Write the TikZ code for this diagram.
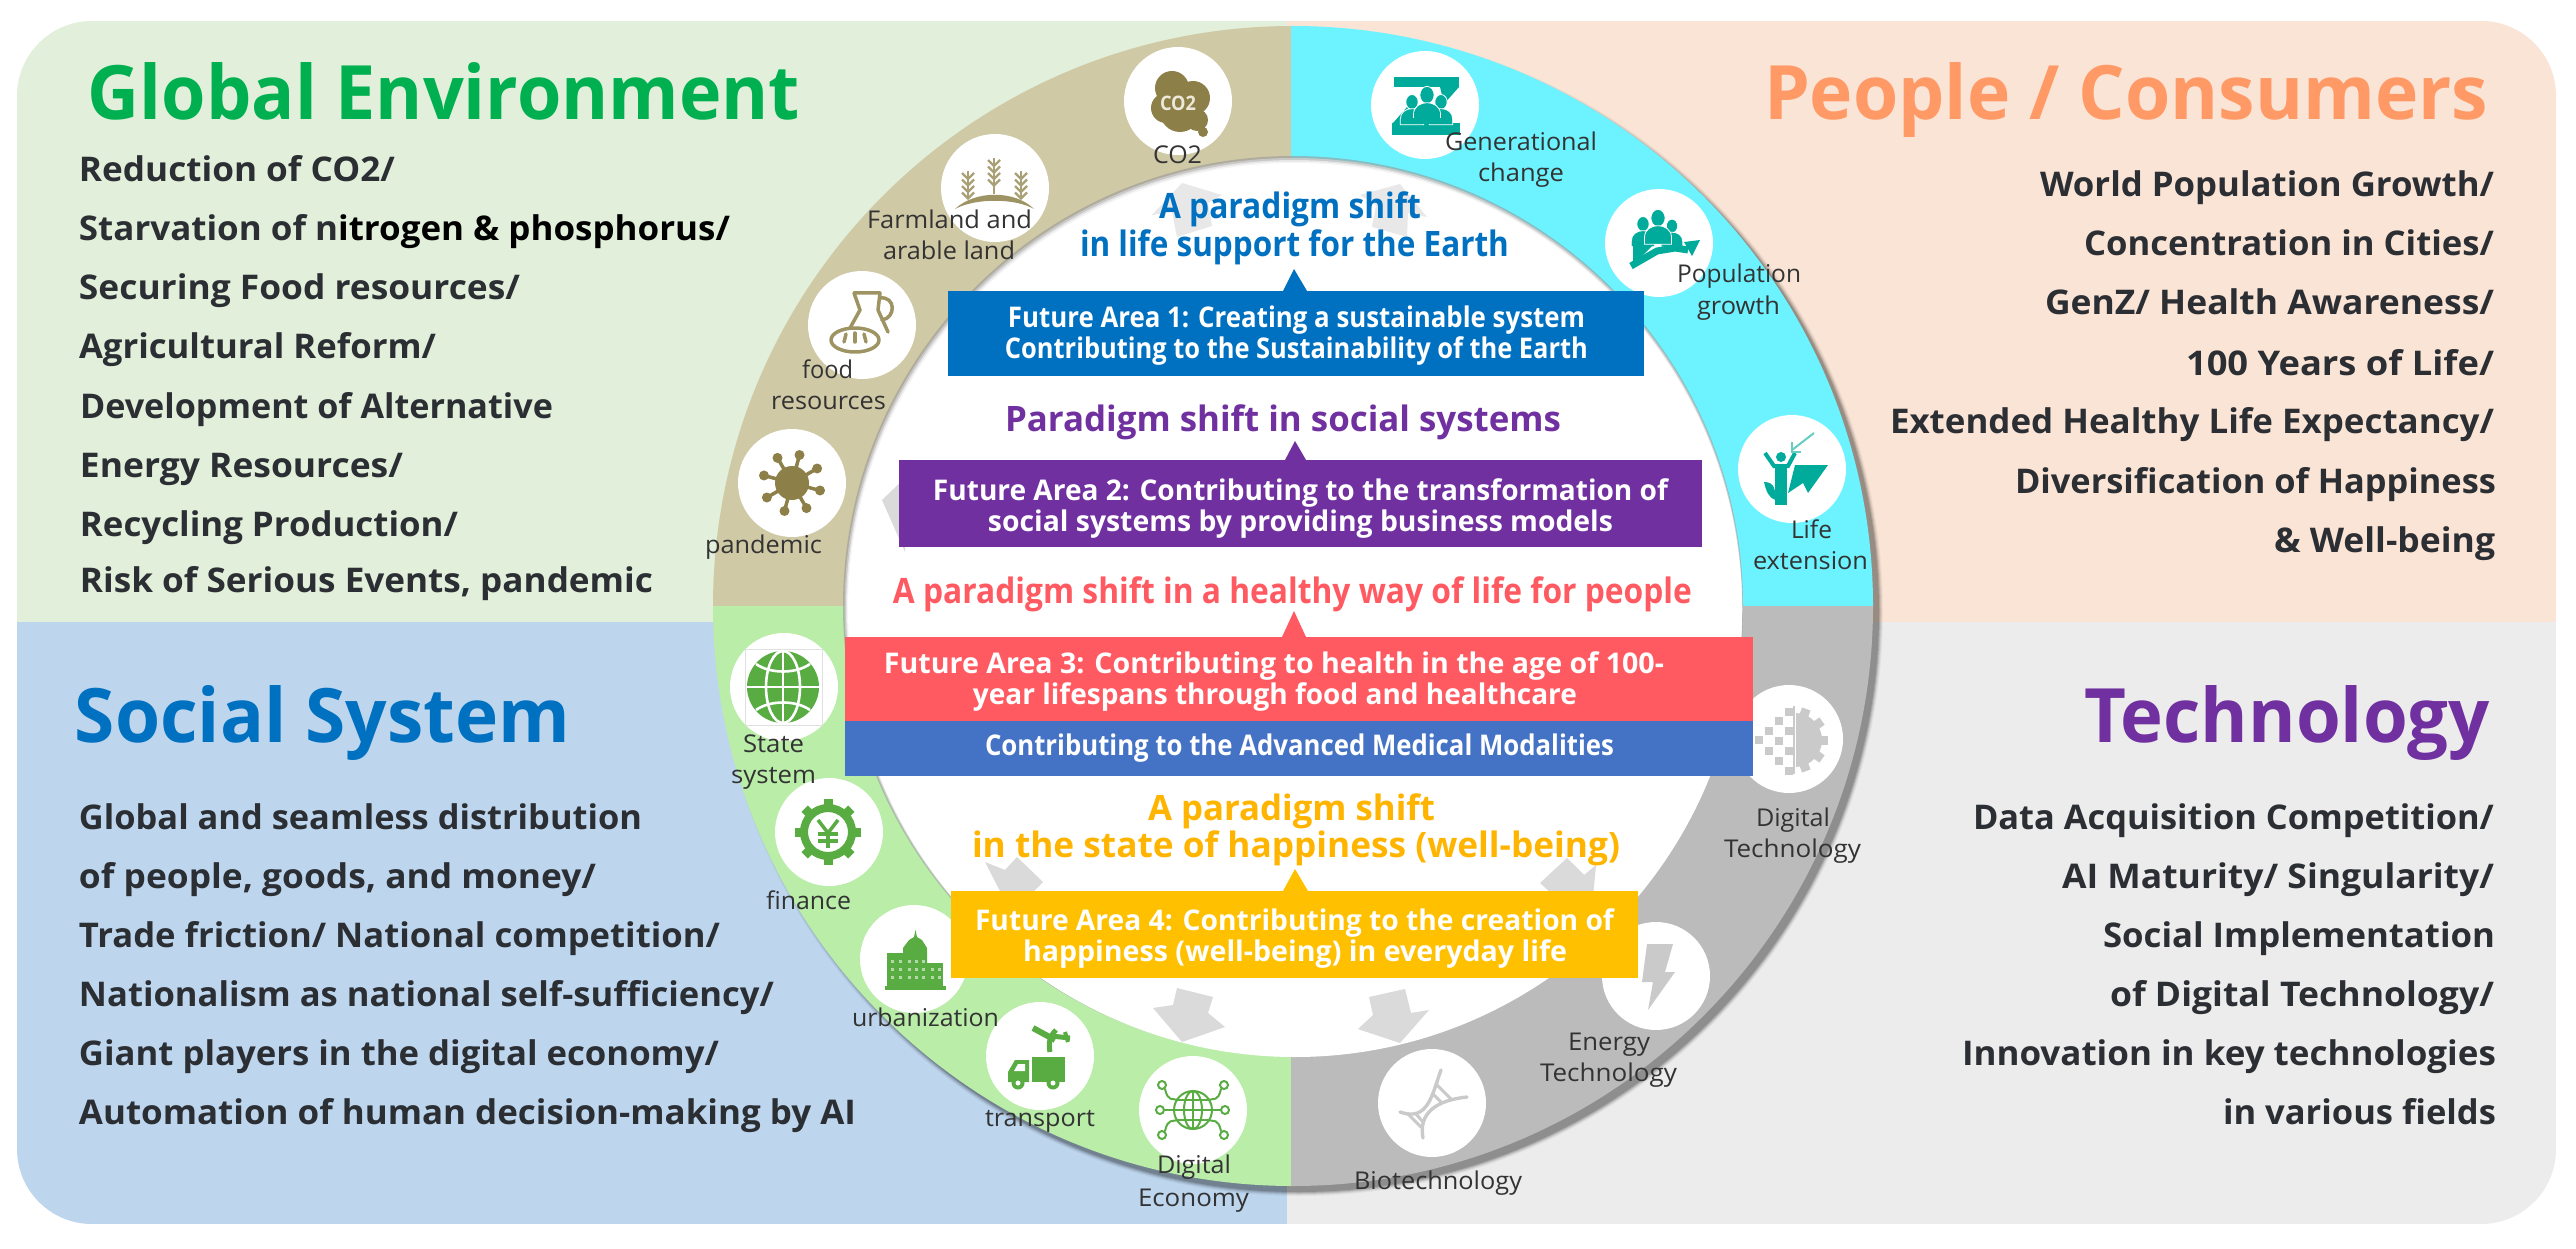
\documentclass[tikz,border=0pt]{standalone}
\usepackage{fontspec}
\setmainfont{Open Sans}
\usetikzlibrary{calc}
\definecolor{bgGreen}{HTML}{E2EFDA}
\definecolor{bgPeach}{HTML}{FAE4D6}
\definecolor{bgBlue}{HTML}{BDD6EE}
\definecolor{bgGray}{HTML}{ECECEC}
\definecolor{rTan}{HTML}{D0C9A6}
\definecolor{rCyan}{HTML}{6CF3FF}
\definecolor{rGray}{HTML}{BBBBBB}
\definecolor{rGreen}{HTML}{B9EDA8}
\definecolor{cBody}{HTML}{2B2E33}
\definecolor{cLab}{HTML}{333333}
\definecolor{tGreen}{HTML}{00B050}
\definecolor{tBlue}{HTML}{0070C0}
\definecolor{tPurple}{HTML}{7030A0}
\definecolor{tOrange}{HTML}{FF9A66}
\definecolor{tRed}{HTML}{FF5A61}
\definecolor{tMed}{HTML}{4472C4}
\definecolor{tYellow}{HTML}{FFC000}
\definecolor{tAmber}{HTML}{FFB400}
\definecolor{icTan}{HTML}{8C8048}
\definecolor{icTeal}{HTML}{00AB9B}
\definecolor{icGreen}{HTML}{58AC42}
\definecolor{icGray}{HTML}{CACACA}
\definecolor{arrGray}{HTML}{DADADA}
\tikzset{
  titlet/.style={anchor=base,inner sep=0pt,font=\fontsize{75}{90}\selectfont\bfseries},
  bodyt/.style={anchor=base,inner sep=0pt,text=cBody,font=\fontsize{34}{40}\selectfont\bfseries},
  headt/.style={anchor=base,inner sep=0pt,font=\fontsize{35}{40}\selectfont\bfseries},
  boxt/.style={anchor=base,inner sep=0pt,text=white,font=\fontsize{28.5}{32}\selectfont\bfseries},
  labt/.style={anchor=base,inner sep=0pt,text=cLab,font=\fontsize{24.5}{28}\selectfont},
  disk/.style={circle,fill=white,inner sep=0pt,minimum size=108pt},
  areabox/.style={rectangle,inner sep=0pt,draw=none},
  grayarrow/.style={fill=arrGray,draw=none}
}
\newcommand{\fitline}[6]{%
  \pgfmathsetmacro\fitW{#3-#2}\pgfmathsetmacro\fitC{(#2+#3)/2}%
  \node[#5] (#1) at (\fitC,#4) {\resizebox{\fitW pt}{\height}{#6}};}
\newcommand{\areabx}[6]{%
  \pgfmathsetmacro\bxW{#3-#2}\pgfmathsetmacro\bxH{#5-#4}%
  \pgfmathsetmacro\bxX{(#2+#3)/2}\pgfmathsetmacro\bxY{(#4+#5)/2}%
  \node[areabox,fill=#6,minimum width=\bxW pt,minimum height=\bxH pt] (#1) at (\bxX,\bxY) {};}
\newcommand{\persic}[3]{%
  \fill[draw=white,line width=.8pt] ({#1},{#2}) ellipse ({#3*.95} and {#3*1.15});
  \fill[draw=white,line width=.8pt] ({#1-#3*1.8},{#2+#3*3.5}) -- ({#1-#3*1.8},{#2+#3*2.6}) .. controls ({#1-#3*1.8},{#2+#3*.5}) and ({#1+#3*1.8},{#2+#3*.5}) .. ({#1+#3*1.8},{#2+#3*2.6}) -- ({#1+#3*1.8},{#2+#3*3.5}) -- cycle;}
\newcommand{\wheatic}[3]{%
  \draw[line width=2pt] (#1,#2) -- (#1,#3);
  \foreach \kk in {0,1,2,3}{%
    \pgfmathsetmacro\yy{#2+2+\kk*6.5}
    \draw[line width=2.4pt] (#1-6,\yy) -- (#1,\yy+6) -- (#1+6,\yy);}}
\begin{document}
\begin{tikzpicture}[x=1pt,y=-1pt]
\useasboundingbox (0,0) rectangle (2576,1249);
\fill[white] (0,0) rectangle (2576,1249);
% background quadrants
\begin{scope}
  \clip[rounded corners=75pt] (17,21) rectangle (2556,1224);
  \fill[bgGreen] (17,21) rectangle (1287,622);
  \fill[bgPeach] (1287,21) rectangle (2556,622);
  \fill[bgBlue] (17,622) rectangle (1287,1224);
  \fill[bgGray] (1287,622) rectangle (2556,1224);
\end{scope}
% ring shadow
\foreach \rr/\op in {584/.04,583/.06,582/.09,581/.12,580/.15}{
  \fill[black,opacity=\op] (1299,612) circle (\rr);}
% ring quadrants
\begin{scope}\clip (600,0) rectangle (1291,606);\fill[rTan] (1293,606) circle (580);\end{scope}
\begin{scope}\clip (1291,0) rectangle (2000,606);\fill[rCyan] (1293,606) circle (580);\end{scope}
\begin{scope}\clip (600,606) rectangle (1291,1249);\fill[rGreen] (1293,606) circle (580);\end{scope}
\begin{scope}\clip (1291,606) rectangle (2000,1249);\fill[rGray] (1293,606) circle (580);\end{scope}
% inner circle with soft inner shadow
\fill[black!40,opacity=.6] (1293,606) circle (450);
\fill[black!20,opacity=.9] (1293.6,607) circle (449);
\fill[black!10] (1294,608) circle (448);
\fill[black!4] (1294.5,609) circle (447.5);
\fill[white] (1295,610) circle (447);
% grey arrows
\fill[grayarrow,opacity=.6] (1182,183) -- (1222,195) -- (1208,203) -- (1212,226) -- (1177,237) -- (1172,212) -- (1152,215) -- cycle;
\fill[grayarrow,opacity=.6] (1400,184) -- (1427,217) -- (1408,213) -- (1407,237) -- (1372,227) -- (1376,205) -- (1360,195) -- cycle;
\fill[grayarrow] (882,500) -- (905,478) -- (905,552) -- cycle;
\fill[grayarrow] (1017,857) -- (1043,882) -- (1030,895) -- (1020,930) -- (985,862) -- (1005,870) -- cycle;
\fill[grayarrow] (1567,858) -- (1540,883) -- (1553,895) -- (1590,930) -- (1596,865) -- (1584,875) -- cycle;
\fill[grayarrow] (1177,988) -- (1213,997) -- (1208,1013) -- (1225,1027) -- (1182,1042) -- (1153,1008) -- (1173,1005) -- cycle;
\fill[grayarrow] (1369,997) -- (1405,989) -- (1411,1013) -- (1429,1010) -- (1400,1043) -- (1358,1029) -- (1373,1015) -- cycle;
% icon discs
\node[disk] (dCO) at (1178,101) {};
\node[disk] (dFarm) at (995,188) {};
\node[disk] (dFood) at (862,325) {};
\node[disk] (dPan) at (792,483) {};
\node[disk] (dGen) at (1425,105) {};
\node[disk] (dPop) at (1659,243) {};
\node[disk] (dLife) at (1792,469) {};
\node[disk] (dState) at (784,687) {};
\node[disk] (dFin) at (829,832) {};
\node[disk] (dUrb) at (914,959) {};
\node[disk] (dTrans) at (1040,1056) {};
\node[disk] (dEcon) at (1193,1110) {};
\node[disk] (dBio) at (1432,1103) {};
\node[disk] (dEn) at (1656,976) {};
\node[disk] (dTech) at (1789,739) {};
% CO2 icon
\begin{scope}[icTan]
  \fill (1172,88) circle (17); \fill (1193,98) circle (17); \fill (1166,108) circle (15);
  \fill (1180,112) circle (20); \fill (1197,120) circle (11); \fill (1203,132) circle (5);
\end{scope}
\fitline{co2in}{1160}{1196}{111}{anchor=base,inner sep=0pt,text=rTan!40,font=\fontsize{20}{22}\selectfont\bfseries}{CO2}
% farmland icon
\begin{scope}[draw=icTan!75]
  \wheatic{994}{158}{194}
  \wheatic{968}{171}{198}
  \wheatic{1021}{171}{198}
\end{scope}
\fill[icTan!85] (955,209) .. controls (975,190) and (1015,190) .. (1034,209) .. controls (1015,198) and (975,198) .. (955,209) -- cycle;
% food icon
\begin{scope}[draw=icTan!85,line width=3.5pt,line join=round,line cap=round]
  \draw (854,293) -- (880,293) -- (878,310) -- (888,332);
  \draw (854,293) -- (860,310) -- (850,328);
  \draw (880,298) .. controls (896,296) and (896,318) .. (882,320);
  \draw (855,340) ellipse (24 and 12);
  \draw (846,334) -- (844,342); \draw (855,333) -- (855,342); \draw (864,334) -- (866,342);
\end{scope}
% pandemic icon
\fill[icTan] (792,483) circle (17);
\foreach \aa in {15,60,...,330}{
  \draw[icTan,line width=3.5pt] (792,483) -- ++(\aa:27);
  \fill[icTan] (792,483) ++(\aa:29) circle (5);}
% generational icon
\begin{scope}[icTeal]
  \fill (1394,77) rectangle (1459,87);
  \fill (1392,123) rectangle (1460,135);
  \fill (1440,87) -- (1459,87) -- (1444,104) -- cycle;
  \fill (1393,123) -- (1408,123) -- (1408,106) -- cycle;
  \persic{1412}{102}{6.5}
  \persic{1441}{102}{6.5}
  \persic{1427}{95}{7.5}
  \fill (1414,112) rectangle (1440,124);
  \fill (1401,118) rectangle (1452,124);
\end{scope}
% population icon
\begin{scope}[icTeal]
  \persic{1643}{224}{6.5}
  \persic{1672}{226}{6}
  \persic{1658}{218}{7.5}
  \fill (1633,246) -- (1652,246) -- (1640,258) -- (1633,262) -- cycle;
  \draw[line width=7pt] (1631,266) -- (1657,251) -- (1675,248) -- (1688,250);
  \fill (1684,242) -- (1700,240) -- (1692,256) -- cycle;
\end{scope}
% life icon
\begin{scope}[icTeal]
  \fill (1781,457) circle (5);
  \draw[line width=4pt] (1765,453) -- (1774,466) -- (1788,466) -- (1795,453);
  \fill (1775,466) rectangle (1787,505);
  \fill (1764,482) .. controls (1775,482) and (1775,490) .. (1776,500) .. controls (1768,498) and (1766,490) .. (1764,482);
  \fill (1795,465) -- (1828,465) -- (1808,493) -- (1803,483) -- (1788,493) -- cycle;
  \draw[line width=2pt,icTeal!60] (1792,450) -- (1814,433);
  \draw[line width=2pt,icTeal!60] (1792,442) -- (1792,452) -- (1801,452);
\end{scope}
% state icon
\draw[black!12,line width=.8pt] (745,649) rectangle (822,725);
\fill[icGreen] (783,687) circle (36);
\begin{scope}[white,line width=2.6pt]
  \draw (783,687) ellipse (17 and 36);
  \draw (783,651) -- (783,723);
  \draw (746,687) -- (820,687);
  \draw (756,664) .. controls (770,674) and (796,674) .. (810,664);
  \draw (756,710) .. controls (770,700) and (796,700) .. (810,710);
\end{scope}
% finance icon
\foreach \aa in {0,45,...,315}{
  \draw[icGreen,line width=9pt] (828,832) ++(\aa:24) -- ++(\aa:9);}
\draw[icGreen,line width=8pt] (828,832) circle (24);
\begin{scope}[icGreen,line width=3.5pt]
  \draw (818,820) -- (828,833) -- (838,820);
  \draw (828,833) -- (828,848);
  \draw (818,834) -- (838,834);
  \draw (818,841) -- (838,841);
\end{scope}
% urbanization icon
\fill[icGreen] (885,986) rectangle (946,990);
\fill[icGreen] (887,953) rectangle (904,987);
\fill[icGreen] (926,963) rectangle (943,987);
\fill[icGreen] (903,988) -- (903,948) -- (909,940) -- (914,937) -- (915.5,930) -- (917,937) -- (922,940) -- (927,948) -- (927,988) -- cycle;
\foreach \xx in {891,899,908,915,922,931,938}{
  \foreach \yy in {960,968,976}{
    \fill[white,opacity=.55] (\xx,\yy) rectangle ++(2.5,3);}}
% transport icon
\fill[icGreen] (1032,1057) rectangle (1065,1082);
\fill[icGreen] (1008,1082) -- (1008,1072) -- (1015,1060) -- (1029,1060) -- (1029,1082) -- cycle;
\fill[white] (1014,1071) -- (1018,1064) -- (1025,1064) -- (1025,1071) -- cycle;
\fill[icGreen] (1018,1083) circle (6.5); \fill[icGreen] (1053,1083) circle (6.5);
\fill[white] (1018,1083) circle (2.5); \fill[white] (1053,1083) circle (2.5);
\draw[icGreen,line width=6pt] (1033,1028) -- (1055,1040);
\draw[icGreen,line width=5pt] (1050,1052) .. controls (1048,1042) and (1050,1036) .. (1056,1030);
\draw[icGreen,line width=5pt] (1051,1036) -- (1070,1038);
\draw[icGreen,line width=4pt] (1065,1032) -- (1068,1042);
% digital economy icon
\begin{scope}[icGreen,line width=2pt]
  \draw (1193,1110) circle (19);
  \draw (1193,1110) ellipse (9 and 19);
  \draw (1193,1091) -- (1193,1129);
  \draw (1174,1110) -- (1212,1110);
  \draw (1177,1100) -- (1209,1100);
  \draw (1177,1120) -- (1209,1120);
  \draw (1165,1089) .. controls (1168,1102) and (1172,1098) .. (1178,1100);
  \draw (1221,1089) .. controls (1218,1102) and (1214,1098) .. (1208,1100);
  \draw (1165,1131) .. controls (1168,1118) and (1172,1122) .. (1178,1120);
  \draw (1221,1131) .. controls (1218,1118) and (1214,1122) .. (1208,1120);
  \draw (1165,1110) -- (1174,1110);
  \draw (1212,1110) -- (1220,1110);
  \foreach \xx/\yy in {1162/1085,1224/1085,1160/1110,1225/1110,1162/1135,1224/1135}{
    \draw[fill=white] (\xx,\yy) circle (4);}
\end{scope}
% biotechnology icon
\begin{scope}[icGray,line width=3.4pt,line cap=round]
  \draw (1400,1112) .. controls (1428,1122) and (1432,1095) .. (1441,1070);
  \draw (1423,1138) .. controls (1418,1112) and (1438,1100) .. (1467,1097);
  \draw[line width=3pt] (1408,1114) -- (1421,1127);
  \draw[line width=3pt] (1416,1114) -- (1423,1122);
  \draw[line width=3pt] (1436,1084) -- (1451,1099);
  \draw[line width=3pt] (1433,1094) -- (1441,1102);
\end{scope}
% energy icon
\fill[icGray] (1647,944) -- (1673,944) -- (1665,972) -- (1675,972) -- (1648,1010) -- (1653,982) -- (1642,982) -- cycle;
% digital technology icon
\begin{scope}
  \clip (1796,695) rectangle (1840,785);
  \fill[icGray] (1795,740) circle (27);
  \foreach \aa in {-70,-35,0,35,70}{
    \draw[icGray,line width=9pt] (1795,740) -- ++(\aa:33);}
\end{scope}
\draw[icGray,line width=2pt] (1794,706) -- (1794,774);
\foreach \xx/\yy in {1785/708,1785/727,1785/747,1785/767,1775/717,1775/737,1775/757,1765/727,1765/747,1755/736}{
  \fill[icGray] (\xx,\yy) rectangle ++(8,8);}
% triangles
\fill[tBlue] (1283,291) -- (1294,269) -- (1307,291) -- cycle;
\fill[tPurple] (1285,460) -- (1295,441) -- (1306,460) -- cycle;
\fill[tRed] (1282,637) -- (1294,611) -- (1306,637) -- cycle;
\fill[tYellow] (1283,891) -- (1295,869) -- (1308,891) -- cycle;
% future-area boxes
\areabx{bOne}{948}{1644}{291}{376}{tBlue}
\areabx{bTwo}{899}{1702}{460}{547}{tPurple}
\areabx{bThree}{845}{1753}{637}{721}{tRed}
\areabx{bMed}{845}{1753}{721}{776}{tMed}
\areabx{bFour}{951}{1638}{891}{978}{tYellow}
% titles
\fitline{tEnv}{88}{800}{120}{titlet,text=tGreen}{Global Environment}
\fitline{tPeo}{1764}{2488}{120}{titlet,text=tOrange}{People / Consumers}
\fitline{tSoc}{75}{570}{742}{titlet,text=tBlue}{Social System}
\fitline{tTec}{2084}{2490}{742}{titlet,text=tPurple}{Technology}
% Global Environment list
\fitline{e1}{79}{395}{182}{bodyt}{Reduction of CO2/}
\fitline{e2}{79}{730}{241}{bodyt}{Starvation of n\textcolor{black}{itrogen \& phosphorus/}}
\fitline{e3}{79}{520}{300}{bodyt}{Securing Food resources/}
\fitline{e4}{79}{436}{359}{bodyt}{Agricultural Reform/}
\fitline{e5}{80}{553}{418}{bodyt}{Development of Alternative}
\fitline{e6}{80}{403}{477}{bodyt}{Energy Resources/}
\fitline{e7}{80}{458}{536}{bodyt}{Recycling Production/}
\fitline{e8}{80}{653}{592}{bodyt}{Risk of Serious Events, pandemic}
% People list
\fitline{p1}{2040}{2494}{197}{bodyt}{World Population Growth/}
\fitline{p2}{2084}{2494}{256}{bodyt}{Concentration in Cities/}
\fitline{p3}{2045}{2494}{315}{bodyt}{GenZ/ Health Awareness/}
\fitline{p4}{2186}{2494}{375}{bodyt}{100 Years of Life/}
\fitline{p5}{1890}{2494}{433}{bodyt}{Extended Healthy Life Expectancy/}
\fitline{p6}{2015}{2496}{493}{bodyt}{Diversification of Happiness}
\fitline{p7}{2274}{2495}{552}{bodyt}{\& Well-being}
% Social list
\fitline{s1}{79}{642}{829}{bodyt}{Global and seamless distribution}
\fitline{s2}{79}{596}{888}{bodyt}{of people, goods, and money/}
\fitline{s3}{79}{720}{947}{bodyt}{Trade friction/ National competition/}
\fitline{s4}{79}{774}{1006}{bodyt}{Nationalism as national self-sufficiency/}
\fitline{s5}{79}{719}{1065}{bodyt}{Giant players in the digital economy/}
\fitline{s6}{79}{856}{1124}{bodyt}{Automation of human decision-making by AI}
% Technology list
\fitline{g1}{1973}{2494}{829}{bodyt}{Data Acquisition Competition/}
\fitline{g2}{2062}{2494}{888}{bodyt}{AI Maturity/ Singularity/}
\fitline{g3}{2103}{2495}{947}{bodyt}{Social Implementation}
\fitline{g4}{2110}{2494}{1006}{bodyt}{of Digital Technology/}
\fitline{g5}{1962}{2496}{1065}{bodyt}{Innovation in key technologies}
\fitline{g6}{2223}{2496}{1124}{bodyt}{in various fields}
% paradigm headings
\fitline{h1a}{1159}{1421}{219}{headt,text=tBlue}{A paradigm shift}
\fitline{h1b}{1080}{1509}{257}{headt,text=tBlue}{in life support for the Earth}
\fitline{h2}{1005}{1561}{431}{headt,text=tPurple}{Paradigm shift in social systems}
\fitline{h3}{893}{1692}{603}{headt,text=tRed}{A paradigm shift in a healthy way of life for people}
\fitline{h4a}{1148}{1435}{820}{headt,text=tAmber}{A paradigm shift}
\fitline{h4b}{972}{1620}{857}{headt,text=tAmber}{in the state of happiness (well-being)}
% box texts
\fitline{x1a}{1008}{1585}{327}{boxt}{Future Area 1: Creating a sustainable system}
\fitline{x1b}{1005}{1588}{358}{boxt}{Contributing to the Sustainability of the Earth}
\fitline{x2a}{933}{1668}{500}{boxt}{Future Area 2: Contributing to the transformation of}
\fitline{x2b}{988}{1613}{531}{boxt}{social systems by providing business models}
\fitline{x3a}{884}{1664}{673}{boxt}{Future Area 3: Contributing to health in the age of 100-}
\fitline{x3b}{973}{1577}{704}{boxt}{year lifespans through food and healthcare}
\fitline{x3c}{985}{1614}{755}{boxt}{Contributing to the Advanced Medical Modalities}
\fitline{x4a}{975}{1614}{930}{boxt}{Future Area 4: Contributing to the creation of}
\fitline{x4b}{1023}{1567}{961}{boxt}{happiness (well-being) in everyday life}
% ring labels
\fitline{l1}{1153}{1202}{164}{labt}{CO2}
\fitline{l2}{867}{1032}{229}{labt}{Farmland and}
\fitline{l3}{883}{1015}{260}{labt}{arable land}
\fitline{l4}{802}{853}{378}{labt}{food}
\fitline{l5}{771}{886}{409}{labt}{resources}
\fitline{l6}{705}{822}{553}{labt}{pandemic}
\fitline{l7}{1445}{1597}{151}{labt}{Generational}
\fitline{l8}{1478}{1564}{182}{labt}{change}
\fitline{l9}{1677}{1801}{283}{labt}{Population}
\fitline{l10}{1697}{1780}{314}{labt}{growth}
\fitline{l11}{1791}{1832}{538}{labt}{Life}
\fitline{l12}{1753}{1868}{569}{labt}{extension}
\fitline{l13}{743}{804}{752}{labt}{State}
\fitline{l14}{731}{816}{783}{labt}{system}
\fitline{l15}{766}{851}{909}{labt}{finance}
\fitline{l16}{852}{999}{1026}{labt}{urbanization}
\fitline{l17}{985}{1095}{1126}{labt}{transport}
\fitline{l18}{1157}{1231}{1173}{labt}{Digital}
\fitline{l19}{1138}{1249}{1206}{labt}{Economy}
\fitline{l20}{1354}{1522}{1189}{labt}{Biotechnology}
\fitline{l21}{1568}{1650}{1050}{labt}{Energy}
\fitline{l22}{1540}{1677}{1081}{labt}{Technology}
\fitline{l23}{1756}{1830}{826}{labt}{Digital}
\fitline{l24}{1724}{1861}{857}{labt}{Technology}
\end{tikzpicture}
\end{document}
